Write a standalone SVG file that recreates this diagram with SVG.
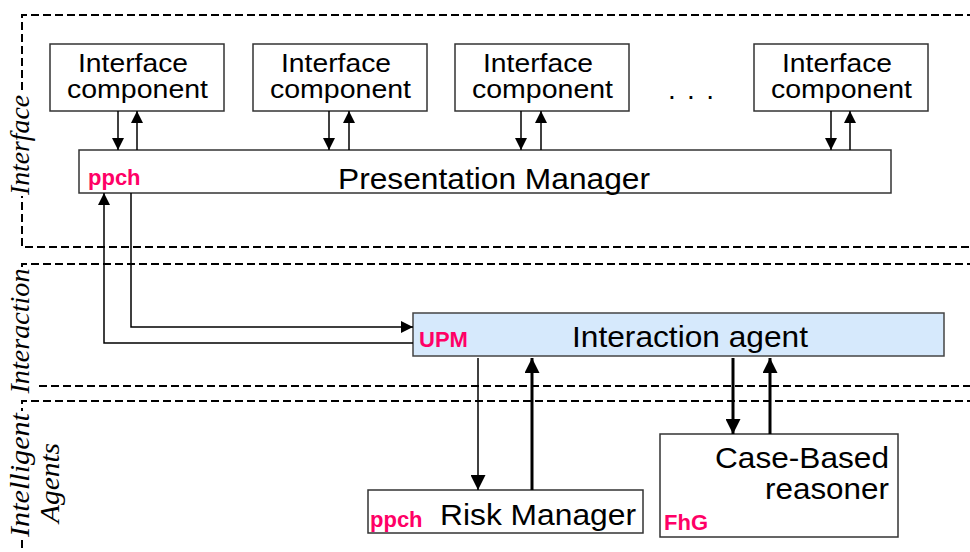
<svg xmlns="http://www.w3.org/2000/svg" width="970" height="552" viewBox="0 0 970 552">
<style>
.sec{fill:none;stroke:#000;stroke-width:2;stroke-dasharray:8 4}
.box{fill:#fff;stroke:#333;stroke-width:1.5}
.ia{fill:#d6e9fc;stroke:#444;stroke-width:1.5}
.t{font-family:"Liberation Sans",Arial,sans-serif;fill:#000}
.ic{font-family:"Liberation Sans",Arial,sans-serif;fill:#000;font-size:25px}
.tag{font-family:"Liberation Sans",Arial,sans-serif;font-weight:bold;font-size:22px;fill:#ff0066}
.lab{font-family:"Liberation Serif","Times New Roman",serif;font-style:italic;font-size:28px;fill:#000}
.c{fill:none;stroke:#000;stroke-width:1.5}
.ck{fill:none;stroke:#000;stroke-width:3}
</style>
<defs>
<marker id="ah" markerUnits="userSpaceOnUse" markerWidth="12" markerHeight="12" refX="12" refY="6" orient="auto"><path d="M0,0 L12,6 L0,12 z" fill="#000"/></marker>
<marker id="ahL" markerUnits="userSpaceOnUse" markerWidth="15" markerHeight="15" refX="15" refY="7.5" orient="auto"><path d="M0,0 L15,7.5 L0,15 z" fill="#000"/></marker>
</defs>
<rect width="970" height="552" fill="#fff"/>
<g id="sections">
<path class="sec" d="M975,15 H22 V247 H975"/>
<path class="sec" d="M975,264 H22 V386 H975"/>
<path class="sec" d="M975,401 H22 V560"/>
<rect x="8" y="94" width="28" height="102" fill="#fff"/>
<rect x="8" y="267" width="28" height="128" fill="#fff"/>
<rect x="8" y="411" width="28" height="128" fill="#fff"/>
<text class="lab" transform="translate(29,145) rotate(-90)" text-anchor="middle" textLength="100" lengthAdjust="spacingAndGlyphs">Interface</text>
<text class="lab" transform="translate(29,331) rotate(-90)" text-anchor="middle" textLength="125" lengthAdjust="spacingAndGlyphs">Interaction</text>
<text class="lab" transform="translate(29,475) rotate(-90)" text-anchor="middle" textLength="124" lengthAdjust="spacingAndGlyphs">Intelligent</text>
<text class="lab" transform="translate(59,483) rotate(-90)" text-anchor="middle" textLength="80" lengthAdjust="spacingAndGlyphs">Agents</text>
</g>
<g id="ic1">
<rect class="box" x="50" y="44" width="174" height="67"/>
<text class="ic" x="78" y="72" textLength="110" lengthAdjust="spacingAndGlyphs">Interface</text>
<text class="ic" x="67" y="98" textLength="141" lengthAdjust="spacingAndGlyphs">component</text>
</g>
<g id="ic2">
<rect class="box" x="253" y="44" width="174" height="67"/>
<text class="ic" x="281" y="72" textLength="110" lengthAdjust="spacingAndGlyphs">Interface</text>
<text class="ic" x="270" y="98" textLength="141" lengthAdjust="spacingAndGlyphs">component</text>
</g>
<g id="ic3">
<rect class="box" x="455" y="44" width="174" height="67"/>
<text class="ic" x="483" y="72" textLength="110" lengthAdjust="spacingAndGlyphs">Interface</text>
<text class="ic" x="472" y="98" textLength="141" lengthAdjust="spacingAndGlyphs">component</text>
</g>
<g id="dots">
<text class="t" font-size="28" x="668" y="99" textLength="46" lengthAdjust="spacing">. . .</text>
</g>
<g id="ic4">
<rect class="box" x="754" y="44" width="174" height="67"/>
<text class="ic" x="782" y="72" textLength="110" lengthAdjust="spacingAndGlyphs">Interface</text>
<text class="ic" x="771" y="98" textLength="141" lengthAdjust="spacingAndGlyphs">component</text>
</g>
<g id="pm">
<rect class="box" x="79" y="150" width="812" height="43"/>
<text class="tag" x="88" y="185">ppch</text>
<text class="t" font-size="30" x="338" y="189" textLength="312" lengthAdjust="spacingAndGlyphs">Presentation Manager</text>
</g>
<g id="ia">
<rect class="ia" x="413" y="313" width="531" height="43"/>
<text class="tag" x="419" y="347">UPM</text>
<text class="t" font-size="30" x="572" y="347" textLength="236" lengthAdjust="spacingAndGlyphs">Interaction agent</text>
</g>
<g id="rm">
<rect class="box" x="368" y="490" width="275" height="43"/>
<text class="tag" x="370" y="527">ppch</text>
<text class="t" font-size="30" x="440" y="525" textLength="196" lengthAdjust="spacingAndGlyphs">Risk Manager</text>
</g>
<g id="cbr">
<rect class="box" x="660" y="434" width="238" height="103"/>
<text class="t" font-size="30" x="715" y="468" textLength="174" lengthAdjust="spacingAndGlyphs">Case-Based</text>
<text class="t" font-size="30" x="765" y="499" textLength="124" lengthAdjust="spacingAndGlyphs">reasoner</text>
<text class="tag" x="664" y="530">FhG</text>
</g>
<g id="connectors">
<line class="c" x1="118" y1="111" x2="118" y2="150" marker-end="url(#ah)"/>
<line class="c" x1="137" y1="150" x2="137" y2="111" marker-end="url(#ah)"/>
<line class="c" x1="329" y1="111" x2="329" y2="150" marker-end="url(#ah)"/>
<line class="c" x1="349" y1="150" x2="349" y2="111" marker-end="url(#ah)"/>
<line class="c" x1="521" y1="111" x2="521" y2="150" marker-end="url(#ah)"/>
<line class="c" x1="541" y1="150" x2="541" y2="111" marker-end="url(#ah)"/>
<line class="c" x1="831" y1="111" x2="831" y2="150" marker-end="url(#ah)"/>
<line class="c" x1="850" y1="150" x2="850" y2="111" marker-end="url(#ah)"/>
<polyline class="c" points="131,193 131,327 413,327" marker-end="url(#ah)"/>
<polyline class="c" points="413,343 104,343 104,193" marker-end="url(#ah)"/>
<line class="c" x1="478" y1="358" x2="478" y2="490" marker-end="url(#ahL)"/>
<line class="ck" x1="532" y1="490" x2="532" y2="358" marker-end="url(#ahL)"/>
<line class="ck" x1="733" y1="358" x2="733" y2="434" marker-end="url(#ahL)"/>
<line class="ck" x1="770" y1="434" x2="770" y2="358" marker-end="url(#ahL)"/>
</g>
</svg>
